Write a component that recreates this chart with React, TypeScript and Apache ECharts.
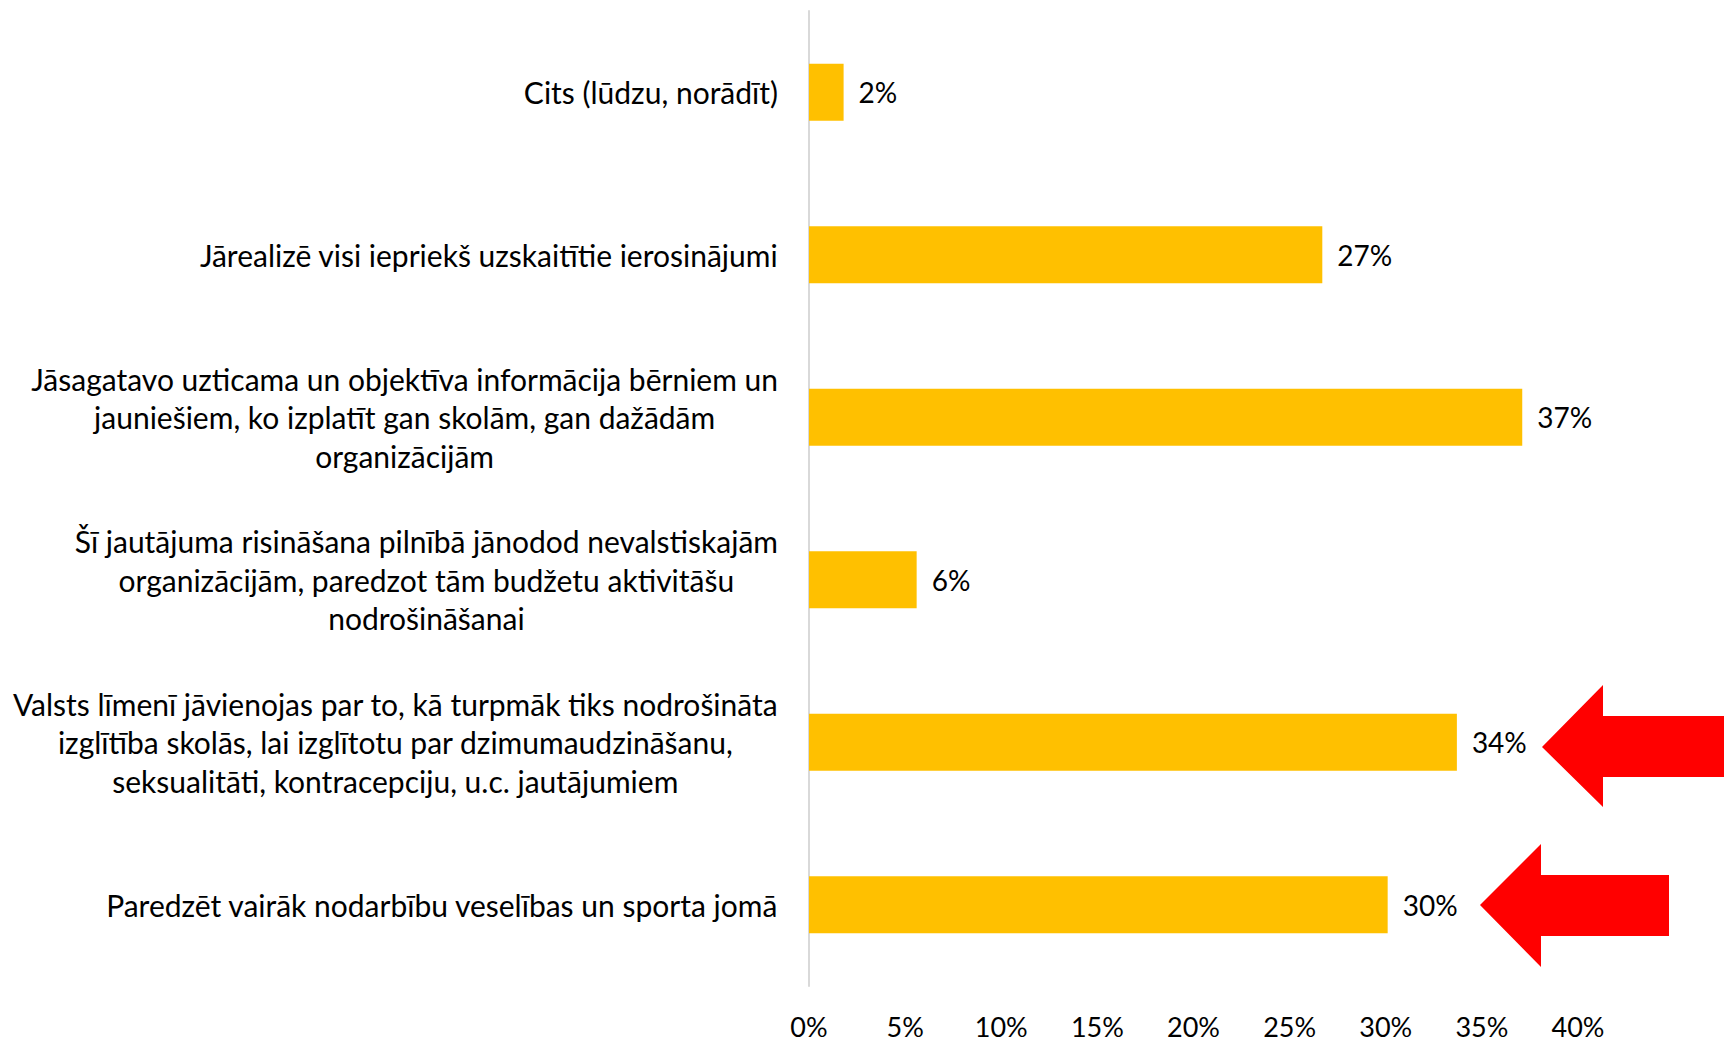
import React, { useEffect, useRef } from "react";
import * as echarts from "echarts";

const categories: string[] = [
  "Cits (lūdzu, norādīt)",
  "Jārealizē visi iepriekš uzskaitītie ierosinājumi",
  "Jāsagatavo uzticama un objektīva informācija bērniem un\njauniešiem, ko izplatīt gan skolām, gan dažādām\norganizācijām",
  "Šī jautājuma risināšana pilnībā jānodod nevalstiskajām\norganizācijām, paredzot tām budžetu aktivitāšu\nnodrošināšanai",
  "Valsts līmenī jāvienojas par to, kā turpmāk tiks nodrošināta\nizglītība skolās, lai izglītotu par dzimumaudzināšanu,\nseksualitāti, kontracepciju, u.c. jautājumiem",
  "Paredzēt vairāk nodarbību veselības un sporta jomā",
];
const values: number[] = [1.8, 26.7, 37.1, 5.6, 33.7, 30.1];
const xTicks = { min: 0, max: 40, interval: 5 };

const FONT = "Lato";
const FS_CAT = 30;
const FS_NUM = 28;
const FS_TICK = 27;

export default function App() {
  const ref = useRef<HTMLDivElement>(null);
  useEffect(() => {
    if (!ref.current) return;
    const chart = echarts.init(ref.current, null, { renderer: "svg" });
    chart.setOption({
      animation: false,
      backgroundColor: "#ffffff",
      grid: { left: 809, right: 146, top: 11, bottom: 58, containLabel: false },
      xAxis: {
        type: "value",
        min: xTicks.min,
        max: xTicks.max,
        interval: xTicks.interval,
        axisLine: { show: false },
        axisTick: { show: false },
        splitLine: { show: false },
        axisLabel: {
          formatter: "{value}%",
          fontFamily: FONT,
          fontSize: FS_TICK,
          color: "#000",
          margin: 27,
          lineHeight: 27,
        },
      },
      yAxis: {
        type: "category",
        inverse: true,
        data: categories,
        axisLine: { show: true, lineStyle: { color: "#d9d9d9", width: 2 } },
        axisTick: { show: false },
        axisLabel: {
          margin: 31,
          fontFamily: FONT,
          fontSize: FS_CAT,
          color: "#000",
          align: "right",
          formatter: (v: string) =>
            v
              .split("\n")
              .map((l) => "{c|" + l + "}")
              .join("\n"),
          rich: {
            c: {
              align: "center",
              fontFamily: FONT,
              fontSize: FS_CAT,
              color: "#000",
              lineHeight: 38.5,
            },
          },
        },
      },
      series: [
        {
          type: "bar",
          data: values,
          barWidth: 57,
          itemStyle: { color: "#FFC000" },
          label: {
            show: true,
            position: "right",
            distance: 15,
            fontFamily: FONT,
            fontSize: FS_NUM,
            color: "#000",
            formatter: (p: any) => Math.round(p.value) + "%",
          },
        },
      ],
      graphic: [
        {
          type: "polygon",
          shape: {
            points: [
              [1542, 747],
              [1603, 685],
              [1603, 716],
              [1724, 716],
              [1724, 777],
              [1603, 777],
              [1603, 807],
            ],
          },
          style: { fill: "#FF0000" },
        },
        {
          type: "polygon",
          shape: {
            points: [
              [1480, 905],
              [1541, 844],
              [1541, 875],
              [1669, 875],
              [1669, 936],
              [1541, 936],
              [1541, 967],
            ],
          },
          style: { fill: "#FF0000" },
        },
      ],
    });
    return () => chart.dispose();
  }, []);
  return (
    <div
      ref={ref}
      style={{ position: "fixed", left: 0, top: 0, width: 1724, height: 1044 }}
    />
  );
}
